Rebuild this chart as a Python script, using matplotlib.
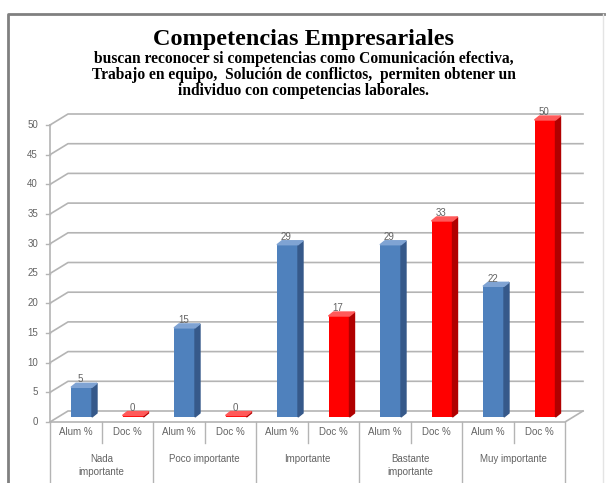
import matplotlib.pyplot as plt
from matplotlib.patches import Polygon

# data
categories = ['Nada\nimportante', 'Poco importante', 'Importante',
              'Bastante\nimportante', 'Muy importante']
series = ['Alum %', 'Doc %']
alum = [5, 15, 29, 29, 22]
doc = [0, 0, 17, 33, 50]
yticks = list(range(0, 55, 5))

title = 'Competencias Empresariales'
subtitle = ['buscan reconocer si competencias como Comunicación efectiva,',
            'Trabajo en equipo,  Solución de conflictos,  permiten obtener un',
            'individuo con competencias laborales.']

# pixel layout of the 3d frame
W, H = 607, 483
PXX = 51.5   # px per bar slot
PXY = 5.94   # px per value unit
X0, Y0 = 50, 422
DX, DY = 18 / PXX, 11 / PXY        # back wall offset
SX, SY = 5 / PXX, 4 / PXY          # bar depth
LIFT = 5 / PXY
BW = 21 / PXX
grid_c = '#B4B4B4'
txt_c = '#636363'

fig = plt.figure(figsize=(W / 100, H / 100), dpi=100)
ax = fig.add_axes([0, 0, 1, 1])
ax.set_xlim(-X0 / PXX, (W - X0) / PXX)
ax.set_ylim(-(H - Y0) / PXY, Y0 / PXY)
ax.axis('off')

n = len(categories) * 2

# back wall gridlines with the diagonal side wall
for v in yticks:
    ax.plot([0, DX, n + DX], [v, v + DY, v + DY], color=grid_c, lw=1.2, zorder=1)
    ax.plot([-4 / PXX, 0], [v, v], color=grid_c, lw=1, zorder=1)
    ax.text(-12 / PXX, v, str(v), ha='right', va='center', fontsize=7,
            color=txt_c, family='Liberation Sans')

# value axis and floor
ax.plot([0, 0], [0, 50], color=grid_c, lw=1.2, zorder=1)
ax.plot([0, n, n + DX], [0, 0, DY], color=grid_c, lw=1.2, zorder=1)

# bars with side and top faces
vals = []
for a, d in zip(alum, doc):
    vals += [a, d]
colors = [('#4F81BD', '#36598A', '#7FA3D3'), ('#FF0000', '#B00000', '#FF5A5A')]

xs = [i + 21 / PXX for i in range(n)]
tops = [max(v, 0.25) + LIFT for v in vals]
for i, (x, v, t) in enumerate(zip(xs, vals, tops)):
    front, side, top = colors[i % 2]
    ax.bar(x, t - LIFT, width=BW, bottom=LIFT, align='edge', color=front,
           edgecolor='none', zorder=3)
    ax.add_patch(Polygon([(x + BW, LIFT), (x + BW + SX, LIFT + SY),
                          (x + BW + SX, t + SY), (x + BW, t)],
                         closed=True, color=side, zorder=3))
    ax.add_patch(Polygon([(x, t), (x + BW, t), (x + BW + SX, t + SY),
                          (x + SX, t + SY)],
                         closed=True, color=top, zorder=3))
    ax.text(x + BW / 2 - 0.02, t + SY - 0.2, str(v), ha='center', va='bottom',
            fontsize=7, color=txt_c, family='Liberation Sans', zorder=4)

# category axis table
ybot = -(H - Y0) / PXY
for i in range(n + 1):
    y2 = ybot if i % 2 == 0 else -21 / PXY
    ax.plot([i, i], [0, y2], color=grid_c, lw=1, zorder=1)
for i in range(n):
    ax.text(i + 0.5, -10 / PXY, series[i % 2], ha='center', va='center',
            fontsize=7, color=txt_c, family='Liberation Sans')
for g, c in enumerate(categories):
    ax.text(2 * g + 1, -32 / PXY, c, ha='center', va='top', fontsize=7,
            color=txt_c, family='Liberation Sans', linespacing=1.4)

# chart frame: dark left/top edges, faint right edge
fx = lambda p: p / W
fy = lambda p: 1 - p / H
fig.add_artist(plt.Line2D([fx(8), fx(8), fx(604)], [0, fy(14), fy(14)],
                          transform=fig.transFigure, color='#808080', lw=2))
fig.add_artist(plt.Line2D([fx(603), fx(603)], [0, fy(14)],
                          transform=fig.transFigure, color='#E4E4E4', lw=1))

# titles
fig.text(0.5, 1 - 40 / H, title, ha='center', va='center',
         fontsize=17.5, fontweight='bold', family='Liberation Serif')
for k, line in enumerate(subtitle):
    fig.text(0.5, 1 - (59 + 16 * k) / H, line, ha='center', va='center',
             fontsize=11.2, fontweight='bold', family='Liberation Serif')

fig.savefig('out.png', dpi=100)
